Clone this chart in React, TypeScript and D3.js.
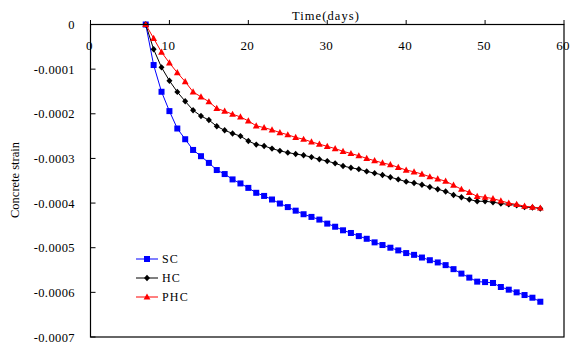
import React from "react";
import * as d3 from "d3";

const days = d3.range(7, 58);
const scValues = [
  0, -0.0000908, -0.0001507, -0.000194, -0.000233, -0.000257, -0.000281, -0.000295, -0.00031, -0.000326,
  -0.000335, -0.000347, -0.000356, -0.000366, -0.000377, -0.000384, -0.000392, -0.000401, -0.000409, -0.000417,
  -0.000425, -0.000431, -0.000437, -0.000446, -0.000453, -0.000461, -0.000467, -0.000474, -0.00048, -0.000488,
  -0.000494, -0.0005, -0.000506, -0.000512, -0.000516, -0.000522, -0.000528, -0.000533, -0.000539, -0.000548,
  -0.000558, -0.000567, -0.000576, -0.000577, -0.000579, -0.000588, -0.000594, -0.0006, -0.000606, -0.000612,
  -0.000621,
];
const hcValues = [
  0, -0.0000556, -0.000096, -0.000126, -0.000151, -0.000172, -0.000192, -0.000205, -0.000214, -0.000228,
  -0.000237, -0.000244, -0.00025, -0.000261, -0.000269, -0.000272, -0.000278, -0.000283, -0.000287, -0.00029,
  -0.000293, -0.000297, -0.000302, -0.000306, -0.000311, -0.000317, -0.000321, -0.000324, -0.000329, -0.000333,
  -0.000337, -0.000342, -0.000347, -0.000352, -0.000355, -0.000359, -0.000364, -0.000369, -0.000374, -0.000382,
  -0.000387, -0.000392, -0.000396, -0.000396, -0.000398, -0.000401, -0.000403, -0.000405, -0.000409, -0.00041,
  -0.000412,
];
const phcValues = [
  0, -0.000031, -0.000062, -0.000086, -0.000108, -0.000128, -0.000151, -0.000162, -0.000173, -0.000188,
  -0.000194, -0.000201, -0.000207, -0.000216, -0.000227, -0.000231, -0.000236, -0.000242, -0.000247, -0.000253,
  -0.000257, -0.000263, -0.000268, -0.000273, -0.000278, -0.000284, -0.000289, -0.000294, -0.0003, -0.000305,
  -0.00031, -0.000314, -0.00032, -0.000326, -0.00033, -0.000335, -0.000341, -0.000346, -0.000351, -0.00036,
  -0.000369, -0.000376, -0.000385, -0.000387, -0.00039, -0.000395, -0.0004, -0.000403, -0.000407, -0.000409,
  -0.000411,
];
const seriesNames = ["SC", "HC", "PHC"];
const seriesColors = ["#0000ff", "#000000", "#ff0000"];
const xTicks = [0, 10, 20, 30, 40, 50, 60];
const yTicks = [0, -0.0001, -0.0002, -0.0003, -0.0004, -0.0005, -0.0006, -0.0007];
const yTickLabels = ["0", "-0.0001", "-0.0002", "-0.0003", "-0.0004", "-0.0005", "-0.0006", "-0.0007"];
const xTitle = "Time(days)";
const yTitle = "Concrete strain";

const W = 572;
const H = 343;
const FONT = "'Liberation Serif', 'Times New Roman', serif";

function Marker({ kind, x, y, color }: { kind: number; x: number; y: number; color: string }) {
  if (kind === 0) return <rect x={x - 3} y={y - 3} width={6} height={6} fill={color} />;
  if (kind === 1)
    return <path d={`M${x},${y - 3.2}L${x + 3},${y}L${x},${y + 3.2}L${x - 3},${y}Z`} fill={color} />;
  return <path d={`M${x},${y - 3.6}L${x + 3.4},${y + 2.6}L${x - 3.4},${y + 2.6}Z`} fill={color} />;
}

export default function App() {
  const x = d3.scaleLinear().domain([0, 60]).range([90.5, 564]);
  const y = d3.scaleLinear().domain([0, -0.0007]).range([24.5, 337]);
  const allSeries = [scValues, hcValues, phcValues];
  const line = d3
    .line<number>()
    .x((_, i) => x(days[i]))
    .y((d) => y(d));

  const legendY = [259, 278, 297];

  return (
    <svg
      width={W}
      height={H}
      style={{ position: "absolute", left: 0, top: 0, background: "#fff" }}
      fontFamily={FONT}
    >
      <rect x={0} y={0} width={W} height={H} fill="#fff" />
      {allSeries.map((vals, si) => (
        <g key={si}>
          <path d={line(vals) || ""} fill="none" stroke={seriesColors[si]} strokeWidth={1} />
          {vals.map((v, i) => (
            <Marker key={i} kind={si} x={x(days[i])} y={y(v)} color={seriesColors[si]} />
          ))}
        </g>
      ))}
      <rect x={x(0)} y={y(0)} width={x(60) - x(0)} height={y(-0.0007) - y(0)} fill="none" stroke="#000" strokeWidth={1.2} />
      {xTicks.map((t) => (
        <g key={t}>
          <line x1={x(t)} x2={x(t)} y1={y(0)} y2={y(0) - 4.5} stroke="#000" strokeWidth={1} />
          <text x={x(t) - 1} y={50} textAnchor="middle" fontSize={13} letterSpacing={0.3} fill="#000">
            {t}
          </text>
        </g>
      ))}
      {yTicks.map((t, i) => (
        <g key={i}>
          <line x1={x(0)} x2={x(0) + 5} y1={y(t)} y2={y(t)} stroke="#000" strokeWidth={1} />
          <text x={75} y={y(t) + 4.5} textAnchor="end" fontSize={12.5} letterSpacing={0.4} fill="#000">
            {yTickLabels[i]}
          </text>
        </g>
      ))}
      <text x={326} y={20} textAnchor="middle" fontSize={12.5} letterSpacing={1.1} fill="#000">
        {xTitle}
      </text>
      <text
        transform={`translate(19,180) rotate(-90)`}
        textAnchor="middle"
        fontSize={12.5}
        fill="#000"
      >
        {yTitle}
      </text>
      {seriesNames.map((n, i) => (
        <g key={n}>
          <line x1={136} x2={158} y1={legendY[i]} y2={legendY[i]} stroke={seriesColors[i]} strokeWidth={1} />
          <Marker kind={i} x={147} y={legendY[i]} color={seriesColors[i]} />
          <text x={162} y={legendY[i] + 4} fontSize={12} letterSpacing={1.2} fill="#000">
            {n}
          </text>
        </g>
      ))}
    </svg>
  );
}
